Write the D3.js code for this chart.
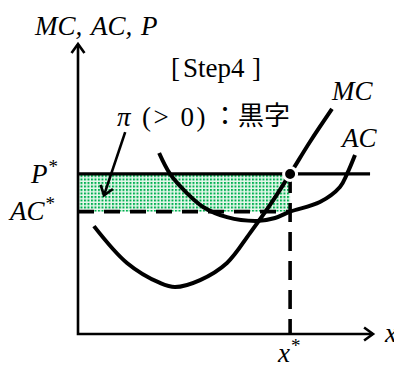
<!DOCTYPE html>
<html><head><meta charset="utf-8">
<script src="https://cdn.jsdelivr.net/npm/d3@7"></script>
<style>body{margin:0;background:#fff}svg{display:block}</style>
</head><body>
<script>
// ---- data (units: 0..100 on both axes) ----
const mcX = [5.4, 16.6, 27.8, 32.9, 41.4, 50.5, 58.3, 65.1, 71.9, 78.6, 86.1];
const mcY = [37.2, 24.5, 17.6, 16.2, 18.6, 24.5, 34.8, 44.5, 55.2, 66.2, 77.6];
const acX = [27.5, 31.2, 36.9, 42.4, 50.5, 60.7, 66.8, 71.9, 82.0, 88.8, 91.2, 93.9];
const acY = [62.4, 55.2, 48.6, 43.8, 40.3, 39.0, 40.0, 42.2, 45.5, 50.7, 55.2, 61.7];
const xStar = 71.9, pStar = 55.2, acStar = 42.2, pLineEnd = 99;
const arrowFrom = [16, 69.6], arrowTo = [8.8, 47.8];

const W = 394, H = 372;
const x = d3.scaleLinear().domain([0, 100]).range([78, 373]);
const y = d3.scaleLinear().domain([0, 100]).range([334, 44]);

const svg = d3.select("body").append("svg").attr("width", W).attr("height", H);
const defs = svg.append("defs");
const pat = defs.append("pattern").attr("id", "dots").attr("patternUnits", "userSpaceOnUse")
  .attr("width", 3.5).attr("height", 3.5);
pat.append("rect").attr("width", 3.5).attr("height", 3.5).attr("fill", "#e6f7ec");
pat.append("rect").attr("width", 2).attr("height", 2).attr("fill", "#00b050");

const math = "'Liberation Serif', 'Times New Roman', serif";
const cjk = "'Noto Sans CJK JP', sans-serif";

// profit area
svg.append("rect").attr("x", x(0)).attr("y", y(pStar))
  .attr("width", x(xStar) - x(0)).attr("height", y(acStar) - y(pStar))
  .attr("fill", "url(#dots)");

// axes
function arrowHead(tx, ty, ang) {
  const L = 11, a = Math.PI / 5;
  const p1 = [tx - L * Math.cos(ang - a), ty - L * Math.sin(ang - a)];
  const p2 = [tx - L * Math.cos(ang + a), ty - L * Math.sin(ang + a)];
  return `M${p1[0]},${p1[1]}L${tx},${ty}L${p2[0]},${p2[1]}`;
}
svg.append("path").attr("d", `M${x(0)},${y(100)}L${x(0)},${y(0)}L${x(100)},${y(0)}`)
  .attr("fill", "none").attr("stroke", "#000").attr("stroke-width", 2.6);
svg.append("path").attr("d", arrowHead(x(0), y(100), -Math.PI / 2))
  .attr("fill", "none").attr("stroke", "#000").attr("stroke-width", 2.6);
svg.append("path").attr("d", arrowHead(x(100), y(0), 0))
  .attr("fill", "none").attr("stroke", "#000").attr("stroke-width", 2.6);

// dashed lines
svg.append("line").attr("x1", x(0)).attr("x2", x(xStar)).attr("y1", y(acStar)).attr("y2", y(acStar))
  .attr("stroke", "#000").attr("stroke-width", 3.6).attr("stroke-dasharray", "16,10");
svg.append("line").attr("x1", x(xStar)).attr("x2", x(xStar)).attr("y1", y(pStar)).attr("y2", y(0))
  .attr("stroke", "#000").attr("stroke-width", 3.6).attr("stroke-dasharray", "19,10");

// price line
svg.append("line").attr("x1", x(0)).attr("x2", x(pLineEnd)).attr("y1", y(pStar)).attr("y2", y(pStar))
  .attr("stroke", "#000").attr("stroke-width", 3.4);

// curves
const line = d3.line().x(d => x(d[0])).y(d => y(d[1])).curve(d3.curveCatmullRom.alpha(0.5));
svg.append("path").attr("d", line(acX.map((v, i) => [v, acY[i]])))
  .attr("fill", "none").attr("stroke", "#000").attr("stroke-width", 4);
svg.append("path").attr("d", line(mcX.map((v, i) => [v, mcY[i]])))
  .attr("fill", "none").attr("stroke", "#000").attr("stroke-width", 4);

// equilibrium dot
svg.append("circle").attr("cx", x(xStar)).attr("cy", y(pStar)).attr("r", 6.5)
  .attr("fill", "#000").attr("stroke", "#fff").attr("stroke-width", 3);

// annotation arrow
const ax1 = x(arrowFrom[0]), ay1 = y(arrowFrom[1]), ax2 = x(arrowTo[0]), ay2 = y(arrowTo[1]);
svg.append("line").attr("x1", ax1).attr("y1", ay1).attr("x2", ax2).attr("y2", ay2)
  .attr("stroke", "#000").attr("stroke-width", 2.6);
svg.append("path").attr("d", arrowHead(ax2, ay2, Math.atan2(ay2 - ay1, ax2 - ax1)))
  .attr("fill", "none").attr("stroke", "#000").attr("stroke-width", 2.6);

// texts
function txt(px, py, s, opt) {
  opt = opt || {};
  return svg.append("text").attr("x", px).attr("y", py).text(s)
    .attr("text-anchor", opt.anchor || "start")
    .attr("font-family", opt.f || math).attr("font-size", opt.size || 27)
    .attr("letter-spacing", opt.ls || 0)
    .attr("font-style", opt.i ? "italic" : "normal").attr("fill", "#000");
}
function withStar(px, py, s, anchor) {
  const t = svg.append("text").attr("x", px).attr("y", py).attr("text-anchor", anchor || "start")
    .attr("font-family", math).attr("font-size", 27).attr("fill", "#000");
  t.append("tspan").text(s).attr("font-style", "italic");
  t.append("tspan").text("*").attr("font-size", 19).attr("dy", -10).attr("dx", 1);
  return t;
}
// y-axis title
txt(35, 35, "MC,", {i: 1});
txt(91, 35, "AC,", {i: 1});
txt(141, 35, "P", {i: 1});
// step label
txt(171, 77, "[", {size: 27});
txt(183, 77, "Step4", {size: 27});
txt(261, 77, "]", {size: 27, anchor: "end"});
// profit label
txt(117, 126, "π", {i: 1, size: 27});
txt(142, 126, "(> 0)", {size: 27, ls: 2.5});
txt(212, 125, "：黒字", {f: cjk, size: 26});
// level labels
withStar(58, 183, "P", "end");
withStar(55, 220, "AC", "end");
withStar(278, 362, "x");
txt(385, 342, "x", {i: 1});
txt(332, 100, "MC", {i: 1});
txt(342, 147, "AC", {i: 1});
</script>
</body></html>
